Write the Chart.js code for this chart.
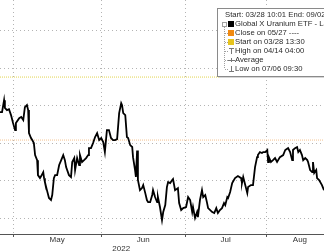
<!DOCTYPE html>
<html>
<head>
<meta charset="utf-8">
<script src="https://cdn.jsdelivr.net/npm/chart.js@4.4.0/dist/chart.umd.min.js"></script>
<style>
  html, body { margin: 0; padding: 0; background: #fff; overflow: hidden; }
  #wrap { position: relative; width: 324px; height: 262px; }
</style>
</head>
<body>
<div id="wrap"><canvas id="chart"></canvas></div>
<script>
// position in trading sessions counted from 1 May 2022, and last price (USD)
const sessions = [
  -3.2, -2.7, -2.2, -2.0, -1.5, -1.0, -0.5, 0, 0.5, 0.7,
  1.5, 2.0, 2.5, 2.9, 3.4, 3.7, 3.9, 4.4, 4.7, 5.1,
  5.4, 5.9, 6.1, 6.6, 6.9, 7.4, 7.6, 7.8, 8.3, 8.8,
  9.3, 9.6, 10.0, 10.3, 10.8, 11.3, 11.8, 12.3, 12.7, 13.0,
  13.7, 14.2, 14.5, 15.0, 15.2, 15.7, 16.2, 16.4, 16.9, 17.4,
  17.9, 18.4, 18.6, 19.1, 19.6, 20.1, 20.6, 21.1, 21.6, 22.1,
  22.5, 23.0, 23.5, 24.0, 24.5, 25.0, 25.5, 26.0, 26.5, 26.7,
  27.0, 27.5, 27.9, 28.2, 28.7, 29.2, 29.4, 29.9, 30.1, 30.4,
  30.6, 31.1, 31.6, 31.9, 32.4, 32.8, 33.1, 33.6, 34.1, 34.3,
  34.8, 35.3, 35.5, 36.0, 36.5, 36.8, 37.3, 37.7, 38.0, 38.5,
  39.0, 39.2, 39.7, 40.4, 40.7, 41.2, 41.7, 42.4, 42.9, 43.4,
  43.9, 44.1, 44.6, 45.1, 45.3, 45.8, 46.3, 46.6, 47.1, 47.5,
  47.8, 48.8, 49.3, 49.8, 50.2, 50.7, 51.2, 51.7, 52.0, 52.5,
  52.7, 53.2, 53.7, 54.4, 55.1, 55.9, 56.1, 56.4, 56.9, 57.4,
  57.6, 58.3, 58.8, 59.3, 59.8, 60.0, 60.5, 61.0, 61.3, 61.8,
  62.3, 62.5, 62.7, 63.2, 63.7, 64.2, 64.7, 65.4, 66.2, 66.7,
  67.4, 67.9, 68.4, 68.6, 69.1, 69.6, 69.9, 70.3, 70.8, 71.1,
  71.6, 72.1, 72.3, 72.8, 73.3, 73.5, 73.8, 74.3, 74.5, 75.0,
  75.7, 76.2
];
const prices = [
  23.65, 23.65, 24.29, 23.87, 23.76, 23.81, 23.49, 23.07, 22.69, 23.07,
  23.33, 23.39, 23.23, 23.92, 24.03, 23.76, 22.53, 22.27, 22.16, 22.00,
  21.36, 21.09, 20.29, 20.13, 20.24, 20.45, 20.13, 19.92, 19.49, 19.07,
  18.96, 19.23, 20.13, 20.29, 20.29, 20.83, 21.09, 21.36, 21.09, 20.72,
  20.29, 20.19, 20.99, 21.20, 20.56, 21.20, 20.83, 21.36, 20.99, 21.09,
  21.20, 21.36, 21.73, 21.73, 22.00, 22.32, 22.53, 22.16, 22.27, 22.05,
  21.52, 22.69, 22.69, 22.27, 22.16, 22.16, 22.21, 23.60, 24.13, 24.03,
  23.60, 23.49, 22.32, 22.27, 21.89, 21.79, 21.25, 20.56, 20.19, 21.60,
  20.03, 19.49, 19.60, 19.76, 19.33, 18.96, 18.85, 18.85, 19.23, 19.49,
  19.12, 18.85, 19.12, 18.59, 17.89, 18.32, 18.69, 19.65, 19.92, 19.87,
  20.03, 20.08, 19.49, 19.60, 18.80, 18.43, 18.53, 18.59, 19.12, 18.96,
  18.32, 18.59, 18.00, 18.32, 18.05, 18.96, 19.49, 19.12, 19.23, 18.85,
  18.53, 18.32, 18.27, 18.53, 18.27, 18.43, 18.53, 18.80, 18.69, 19.12,
  19.07, 19.39, 19.87, 20.13, 20.24, 20.13, 19.87, 20.19, 19.76, 19.33,
  19.65, 19.76, 19.76, 20.72, 21.25, 21.36, 21.52, 21.47, 21.52, 21.52,
  21.63, 20.99, 21.25, 20.99, 21.09, 21.20, 20.99, 21.25, 21.36, 21.63,
  21.73, 21.52, 21.09, 21.63, 21.73, 21.79, 21.52, 21.63, 21.36, 21.09,
  21.20, 21.09, 20.99, 20.56, 20.45, 20.99, 20.40, 20.56, 20.13, 20.03,
  19.76, 19.49
];
const closeLevel = 22.16;   // close on 05/27
const startLevel = 25.52;   // start on 03/28
const gridPrices = [18, 20, 22, 24, 26, 28];
const monthStarts = [0, 21.6, 42.2, 62];
const monthMids = [10.8, 31.9, 52.1, 70.3];
const monthLabels = ['May', 'Jun', 'Jul', 'Aug'];
const yearPos = [26.5];
const yearLabels = ['2022'];
const legendTitle = 'Start: 03/28 10:01 End: 09/02 16:00';
const legendRows = [
  { text: 'Global X Uranium ETF - Last Price', mark: 'square', color: '#000000' },
  { text: 'Close on 05/27 ----', mark: 'square', color: '#f08a12' },
  { text: 'Start on 03/28 13:30', mark: 'square', color: '#e6c41e' },
  { text: 'High on 04/14 04:00', mark: 'high' },
  { text: 'Average', mark: 'avg' },
  { text: 'Low on 07/06 09:30', mark: 'low' }
];

Chart.defaults.font.family = '"Liberation Sans", Arial, sans-serif';

const first = sessions[0];
const last = sessions[sessions.length - 1];

// bloomberg style legend box in the upper right
const legendBox = {
  id: 'legendBox',
  afterDraw(chart) {
    const c = chart.ctx;
    c.save();
    // soft shadow then box
    c.fillStyle = '#d6d6d6';
    c.fillRect(219, 10, 130, 68);
    c.fillStyle = '#ffffff';
    c.fillRect(217.5, 8.5, 130, 68);
    c.strokeStyle = '#8a8a8a';
    c.lineWidth = 1;
    c.strokeRect(217.5, 8.5, 130, 68);
    c.font = '7.7px "Liberation Sans"';
    c.textBaseline = 'middle';
    c.fillStyle = '#2a2a2a';
    c.fillText(legendTitle, 225, 15);

    // tree lines
    c.strokeStyle = '#a0a0a0';
    c.setLineDash([1, 1]);
    c.beginPath();
    c.moveTo(224.5, 27);
    c.lineTo(224.5, 69);
    legendRows.forEach((r, i) => {
      if (i === 0) return;
      const y = 24 + i * 9;
      c.moveTo(225, y + 0.5);
      c.lineTo(228, y + 0.5);
    });
    c.stroke();
    c.setLineDash([]);
    c.strokeRect(222.5, 22.5, 4, 4);

    legendRows.forEach((r, i) => {
      const y = 24 + i * 9;
      c.strokeStyle = '#777';
      if (r.mark === 'square') {
        c.fillStyle = r.color;
        c.fillRect(228, y - 3, 6, 6);
      } else if (r.mark === 'high') {
        c.beginPath();
        c.moveTo(229, y - 2.5); c.lineTo(234, y - 2.5);
        c.moveTo(231.5, y - 2.5); c.lineTo(231.5, y + 3);
        c.stroke();
      } else if (r.mark === 'avg') {
        c.beginPath();
        c.moveTo(228, y + 0.5); c.lineTo(235, y + 0.5);
        c.moveTo(231.5, y - 2); c.lineTo(231.5, y + 2);
        c.stroke();
      } else {
        c.beginPath();
        c.moveTo(231.5, y - 3); c.lineTo(231.5, y + 2.5);
        c.moveTo(229, y + 2.5); c.lineTo(234, y + 2.5);
        c.stroke();
      }
      c.fillStyle = '#2a2a2a';
      c.fillText(r.text, 235, y);
    });
    c.restore();
  }
};

const ctx = document.getElementById('chart').getContext('2d');
new Chart(ctx, {
  type: 'line',
  data: {
    datasets: [
      {
        label: legendRows[0].text,
        data: sessions.map((s, i) => ({ x: s, y: prices[i] })),
        borderColor: '#000',
        borderWidth: 1.8,
        pointRadius: 0,
        tension: 0
      },
      {
        label: 'Close',
        data: [{ x: first, y: closeLevel }, { x: last, y: closeLevel }],
        borderColor: '#f4c18e',
        borderWidth: 1,
        borderDash: [1, 1],
        pointRadius: 0
      },
      {
        label: 'Start',
        data: [{ x: first, y: startLevel }, { x: last, y: startLevel }],
        borderColor: '#e2d450',
        borderWidth: 1,
        borderDash: [1, 1],
        pointRadius: 0
      }
    ]
  },
  options: {
    responsive: true,
    maintainAspectRatio: false,
    animation: false,
    layout: { padding: 0 },
    plugins: { legend: { display: false }, tooltip: { enabled: false } },
    scales: {
      x: {
        type: 'linear', min: first, max: last,
        afterBuildTicks: a => { a.ticks = monthStarts.map(v => ({ value: v })); },
        afterFit: a => { a.height = 0; },
        ticks: { display: false },
        grid: { color: '#b4b4b4', tickLength: 3, tickColor: '#555' },
        border: { display: true, color: '#555', width: 1, dash: [1, 3] }
      },
      xm: {
        type: 'linear', position: 'bottom', min: first, max: last,
        afterBuildTicks: a => { a.ticks = monthMids.map(v => ({ value: v })); },
        afterFit: a => { a.height = 10; },
        grid: { display: false, drawTicks: false },
        border: { display: false },
        ticks: { autoSkip: false, maxRotation: 0, padding: 1, color: '#333',
          font: { size: 8 }, callback: (v, i) => monthLabels[i] }
      },
      xy: {
        type: 'linear', position: 'bottom', min: first, max: last,
        afterBuildTicks: a => { a.ticks = yearPos.map(v => ({ value: v })); },
        afterFit: a => { a.height = 18; },
        grid: { display: false, drawTicks: false },
        border: { display: false },
        ticks: { autoSkip: false, maxRotation: 0, padding: 0, color: '#333',
          font: { size: 8 }, callback: (v, i) => yearLabels[i] }
      },
      y: {
        min: 17.15, max: 29.63,
        afterBuildTicks: a => { a.ticks = gridPrices.map(v => ({ value: v })); },
        afterFit: a => { a.width = 0; },
        ticks: { display: false },
        grid: { color: '#b4b4b4', drawTicks: false },
        border: { display: false, dash: [1, 3] }
      }
    }
  },
  plugins: [legendBox]
});
</script>
</body>
</html>
